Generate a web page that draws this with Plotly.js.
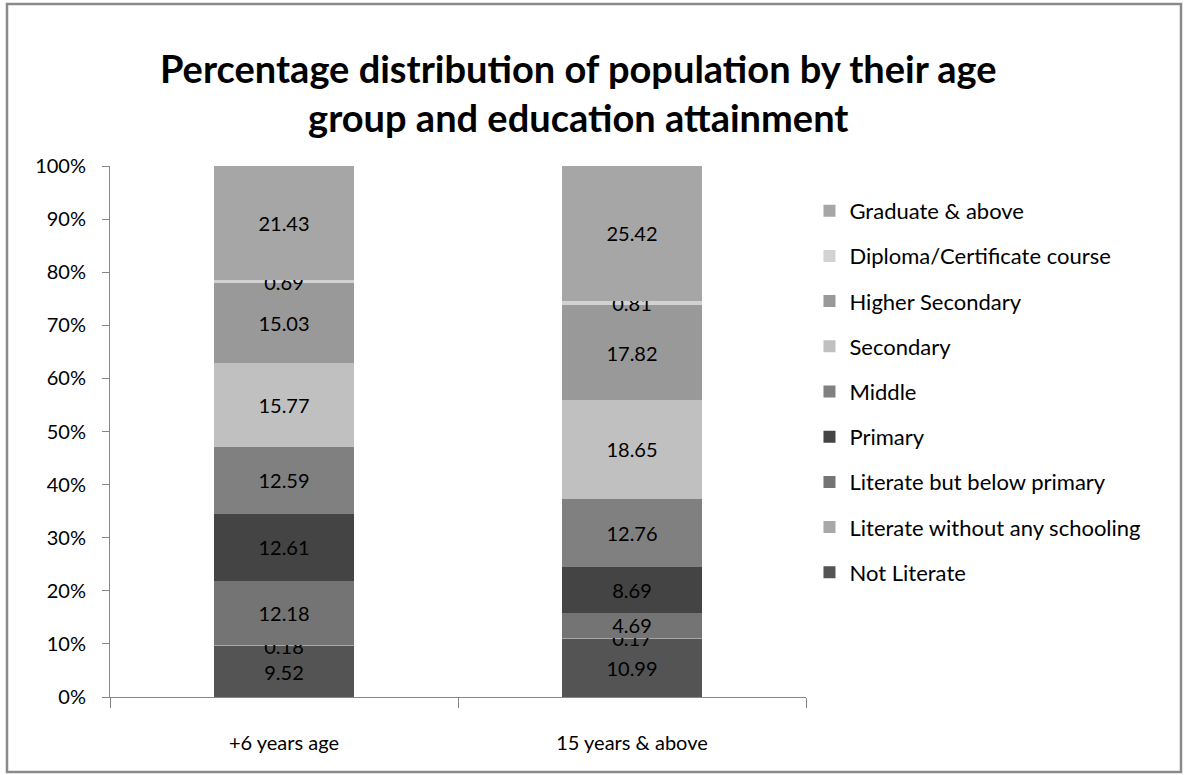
<!DOCTYPE html>
<html>
<head>
<meta charset="utf-8">
<script src="https://cdn.plot.ly/plotly-3.0.1.min.js"></script>
<style>html,body{margin:0;padding:0;background:#fff;}#chart{width:1185px;height:775px;}</style>
</head>
<body>
<div id="chart"></div>
<script>
const categories = ["+6 years age", "15 years & above"];
const seriesNames = ["Not Literate", "Literate without any schooling", "Literate but below primary", "Primary", "Middle", "Secondary", "Higher Secondary", "Diploma/Certificate course", "Graduate & above"];
const notLiterate = [9.52, 10.99];
const literateWithoutSchooling = [0.18, 0.17];
const literateBelowPrimary = [12.18, 4.69];
const primary = [12.61, 8.69];
const middle = [12.59, 12.76];
const secondary = [15.77, 18.65];
const higherSecondary = [15.03, 17.82];
const diploma = [0.69, 0.81];
const graduate = [21.43, 25.42];
const yTickVals = [0, 10, 20, 30, 40, 50, 60, 70, 80, 90, 100];

const seriesValues = [notLiterate, literateWithoutSchooling, literateBelowPrimary, primary, middle, secondary, higherSecondary, diploma, graduate];
const colors = ["#545454", "#a8a8a8", "#747474", "#444444", "#808080", "#c0c0c0", "#999999", "#d2d2d2", "#a6a6a6"];

const FONT = "Lato, 'Open Sans', sans-serif";

const traces = seriesNames.map((name, i) => ({
  type: "bar",
  name: name,
  x: categories,
  y: seriesValues[i],
  text: seriesValues[i].map(v => v.toFixed(2)),
  textposition: "inside",
  insidetextanchor: "middle",
  textangle: 0,
  insidetextfont: {family: FONT, size: 20, color: "#000"},
  constraintext: "none",
  marker: {color: colors[i], line: {width: 0}},
  legendgroup: "g" + i,
  legendrank: 100 - i,
  hoverinfo: "skip"
}));

const layout = {
  width: 1185,
  height: 775,
  barmode: "stack",
  bargap: 0.6,
  paper_bgcolor: "#fff",
  plot_bgcolor: "#fff",
  margin: {l: 110, r: 379, t: 166, b: 78},
  font: {family: FONT, size: 20, color: "#000"},
  uniformtext: {mode: "show", minsize: 20},
  title: {
    text: "<b>Percentage distribution of population by their age<br>group and education attainment</b>",
    font: {family: FONT, size: 38, color: "#000"},
    x: 0.488, xanchor: "center",
    y: 0.893, yanchor: "top"
  },
  xaxis: {
    type: "category",
    showline: true, linecolor: "#868686", linewidth: 1,
    ticks: "outside", tickson: "boundaries", ticklen: 10, tickcolor: "#868686",
    ticklabelstandoff: 28,
    tickfont: {family: FONT, size: 20, color: "#000"},
    showgrid: false, zeroline: false, fixedrange: true
  },
  yaxis: {
    range: [0, 100],
    tickvals: yTickVals,
    ticktext: yTickVals.map(v => v + "%"),
    showline: true, linecolor: "#868686", linewidth: 1,
    ticks: "outside", ticklen: 7, tickcolor: "#868686",
    ticklabelstandoff: 12,
    tickfont: {family: FONT, size: 20, color: "#000"},
    showgrid: false, zeroline: false, fixedrange: true
  },
  legend: {
    x: 1.005, xanchor: "left",
    y: 0.955, yanchor: "top",
    traceorder: "grouped",
    tracegroupgap: 13.6,
    font: {family: FONT, size: 22, color: "#000"},
    bgcolor: "rgba(0,0,0,0)"
  },
  shapes: [{
    type: "rect", xref: "paper", yref: "paper",
    x0: (7 - 110) / 696, x1: (1181 - 110) / 696,
    y0: (697 - 772) / 531, y1: (697 - 4) / 531,
    line: {color: "#8a8a8a", width: 2.5}, fillcolor: "rgba(0,0,0,0)", layer: "below"
  }]
};

Plotly.newPlot("chart", traces, layout, {displayModeBar: false, staticPlot: true});
</script>
</body>
</html>
